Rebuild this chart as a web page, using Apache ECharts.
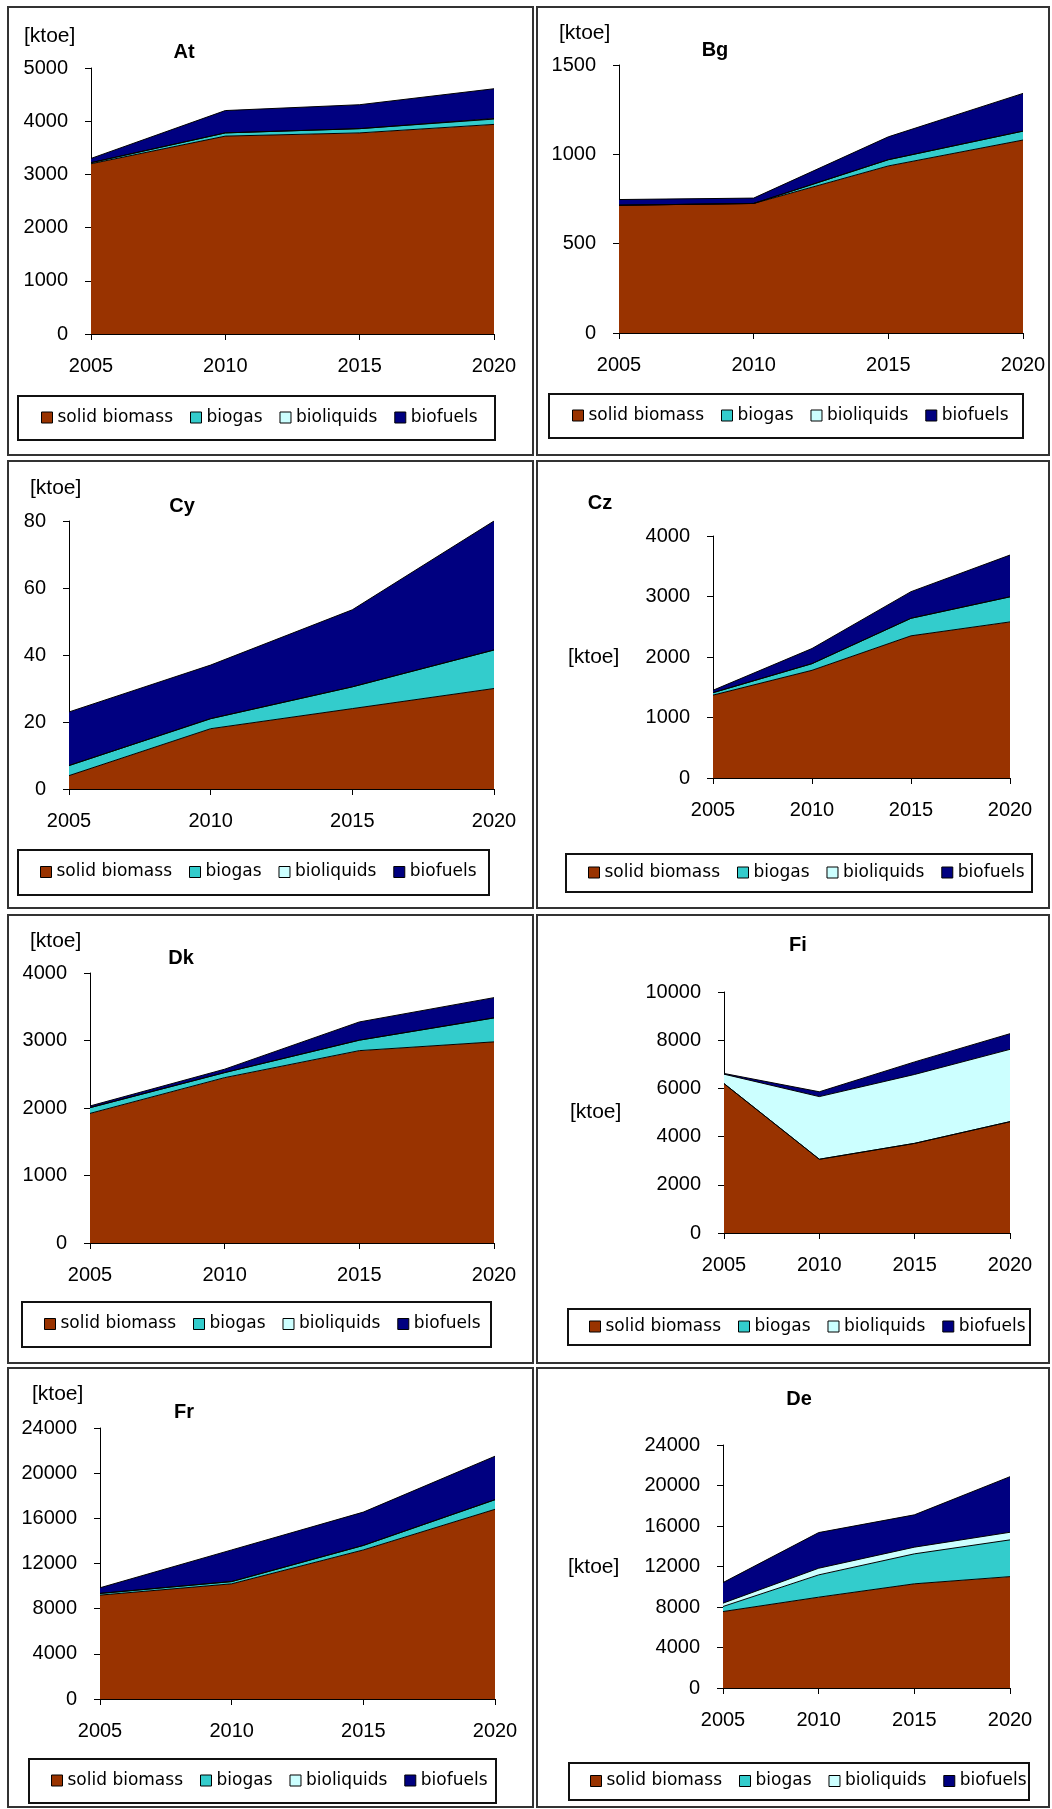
<!DOCTYPE html>
<html>
<head>
<meta charset="utf-8">
<script src="https://cdn.jsdelivr.net/npm/echarts@6/dist/echarts.min.js"></script>
<style>
html,body{margin:0;padding:0;background:#fff;}
#chart{width:1052px;height:1809px;}
</style>
</head>
<body>
<div id="chart"></div>
<script>
// ---- data ----
const years = ['2005', '2010', '2015', '2020'];
const seriesNames = ['solid biomass', 'biogas', 'bioliquids', 'biofuels'];

const atSolid = [3200, 3720, 3780, 3940];
const atBiogas = [20, 60, 80, 100];
const atBioliquids = [0, 0, 0, 10];
const atBiofuels = [80, 420, 450, 560];

const bgSolid = [715, 725, 935, 1080];
const bgBiogas = [0, 0, 35, 50];
const bgBioliquids = [0, 0, 0, 0];
const bgBiofuels = [32, 30, 128, 211];

const cySolid = [4, 18, 24, 30];
const cyBiogas = [3, 3, 6.5, 11.5];
const cyBioliquids = [0, 0, 0, 0];
const cyBiofuels = [16, 16, 23, 38.5];

const czSolid = [1370, 1780, 2350, 2580];
const czBiogas = [40, 110, 290, 415];
const czBioliquids = [0, 0, 0, 0];
const czBiofuels = [40, 250, 440, 690];

const dkSolid = [1920, 2450, 2850, 2980];
const dkBiogas = [85, 75, 155, 355];
const dkBioliquids = [0, 0, 0, 0];
const dkBiofuels = [25, 50, 270, 300];

const fiSolid = [6200, 3060, 3720, 4620];
const fiBiogas = [0, 0, 0, 0];
const fiBioliquids = [390, 2600, 2860, 3000];
const fiBiofuels = [30, 200, 520, 650];

const frSolid = [9200, 10200, 13200, 16800];
const frBiogas = [150, 200, 400, 850];
const frBioliquids = [0, 0, 0, 0];
const frBiofuels = [500, 2800, 2950, 3850];

const deSolid = [7550, 8970, 10290, 11000];
const deBiogas = [500, 2200, 2960, 3630];
const deBioliquids = [330, 660, 660, 750];
const deBiofuels = [2030, 3520, 3190, 5490];

const yMaxes = [5000, 1500, 80, 4000, 4000, 10000, 24000, 24000];
const yIntervals = [1000, 500, 20, 1000, 1000, 2000, 4000, 4000];
const codes = ['At', 'Bg', 'Cy', 'Cz', 'Dk', 'Fi', 'Fr', 'De'];
const unitLabel = '[ktoe]';

// ---- styles / layout ----
const fills = ['#993300', '#33CCCC', '#CCFFFF', '#000080'];
const countryData = [
  [atSolid, atBiogas, atBioliquids, atBiofuels],
  [bgSolid, bgBiogas, bgBioliquids, bgBiofuels],
  [cySolid, cyBiogas, cyBioliquids, cyBiofuels],
  [czSolid, czBiogas, czBioliquids, czBiofuels],
  [dkSolid, dkBiogas, dkBioliquids, dkBiofuels],
  [fiSolid, fiBiogas, fiBioliquids, fiBiofuels],
  [frSolid, frBiogas, frBioliquids, frBiofuels],
  [deSolid, deBiogas, deBioliquids, deBiofuels]
];
// plot area [x0, y0, x1, y1], legend box [x0,y0,x1,y1], legend start x, unit label [x,y], title [x,y]
const layout = [
  {plot:[91,68,494,334],    leg:[18,396,495,440],    legX:41,  unit:[24,36],   title:[184,52]},
  {plot:[619,65,1023,333],  leg:[549,394,1023,438],  legX:572, unit:[559,33],  title:[715,50]},
  {plot:[69,521,494,789],   leg:[18,850,489,895],    legX:40,  unit:[30,488],  title:[182,506]},
  {plot:[713,536,1010,778], leg:[566,854,1032,892],  legX:588, unit:[568,657], title:[600,503]},
  {plot:[90,973,494,1243],  leg:[22,1302,491,1347],  legX:44,  unit:[30,941],  title:[181,958]},
  {plot:[724,992,1010,1233],leg:[568,1309,1030,1345],legX:589, unit:[570,1112],title:[798,945]},
  {plot:[100,1428,495,1699],leg:[29,1759,496,1803],  legX:51,  unit:[32,1394], title:[184,1412]},
  {plot:[723,1445,1010,1688],leg:[569,1763,1029,1800],legX:590,unit:[568,1567],title:[799,1399]}
];
const panels = [
  [8,7,533,455],[537,7,1049,455],
  [8,461,533,908],[537,461,1049,908],
  [8,915,533,1363],[537,915,1049,1363],
  [8,1368,533,1807],[537,1368,1049,1807]
];

const grids = [], xAxes = [], yAxes = [], series = [], legends = [], graphics = [];
const FONT = '"Liberation Sans", Arial, sans-serif';

panels.forEach(p => {
  graphics.push({type:'rect', silent:true, shape:{x:p[0], y:p[1], width:p[2]-p[0], height:p[3]-p[1]},
    style:{fill:null, stroke:'#333', lineWidth:2}});
});

layout.forEach((L, i) => {
  const [x0, y0, x1, y1] = L.plot;
  grids.push({left:x0, top:y0, width:x1-x0, height:y1-y0, containLabel:false});
  xAxes.push({
    type:'category', gridIndex:i, data:years, boundaryGap:false,
    axisLine:{show:true, lineStyle:{color:'#000', width:1}},
    axisTick:{show:true, length:6, interval:0, lineStyle:{color:'#000'}},
    axisLabel:{color:'#000', fontSize:20, fontFamily:FONT, margin:22, interval:0},
    splitLine:{show:false}
  });
  yAxes.push({
    type:'value', gridIndex:i, min:0, max:yMaxes[i], interval:yIntervals[i],
    axisLine:{show:true, lineStyle:{color:'#000', width:1}},
    axisTick:{show:true, length:6, lineStyle:{color:'#000'}},
    axisLabel:{color:'#000', fontSize:20, fontFamily:FONT, margin:23, formatter: v => String(v)},
    splitLine:{show:false}
  });
  countryData[i].forEach((vals, s) => {
    series.push({
      name: seriesNames[s], type:'line', stack:codes[i],
      xAxisIndex:i, yAxisIndex:i, data: vals,
      symbol:'none', showSymbol:false, silent:true,
      color: fills[s],
      lineStyle:{color:'#000', width:1},
      areaStyle:{color:fills[s], opacity:1},
      emphasis:{disabled:true}
    });
  });
  const lb = L.leg;
  graphics.push({type:'rect', silent:true, shape:{x:lb[0], y:lb[1], width:lb[2]-lb[0], height:lb[3]-lb[1]},
    style:{fill:null, stroke:'#111', lineWidth:2}});
  legends.push({
    left: L.legX, top: (lb[1] + lb[3]) / 2 - 9, padding:0,
    orient:'horizontal', icon:'rect', itemWidth:11, itemHeight:11, itemGap:17,
    selectedMode:false,
    textStyle:{color:'#000', fontSize:17, fontFamily:'"DejaVu Sans", sans-serif'},
    data: seriesNames.map((n, s) => ({name:n, itemStyle:{color:fills[s], borderColor:'#000', borderWidth:1}}))
  });
  graphics.push({type:'text', silent:true, style:{text:unitLabel, x:L.unit[0], y:L.unit[1],
    textAlign:'left', textVerticalAlign:'middle', font:'21px ' + FONT, fill:'#000'}});
  graphics.push({type:'text', silent:true, style:{text:codes[i], x:L.title[0], y:L.title[1],
    textAlign:'center', textVerticalAlign:'middle', font:'bold 20px ' + FONT, fill:'#000'}});
});

const chart = echarts.init(document.getElementById('chart'), null, {renderer:'canvas'});
chart.setOption({
  animation:false,
  backgroundColor:'#fff',
  grid:grids, xAxis:xAxes, yAxis:yAxes, series:series, legend:legends,
  graphic:{elements:graphics}
});
</script>
</body>
</html>
